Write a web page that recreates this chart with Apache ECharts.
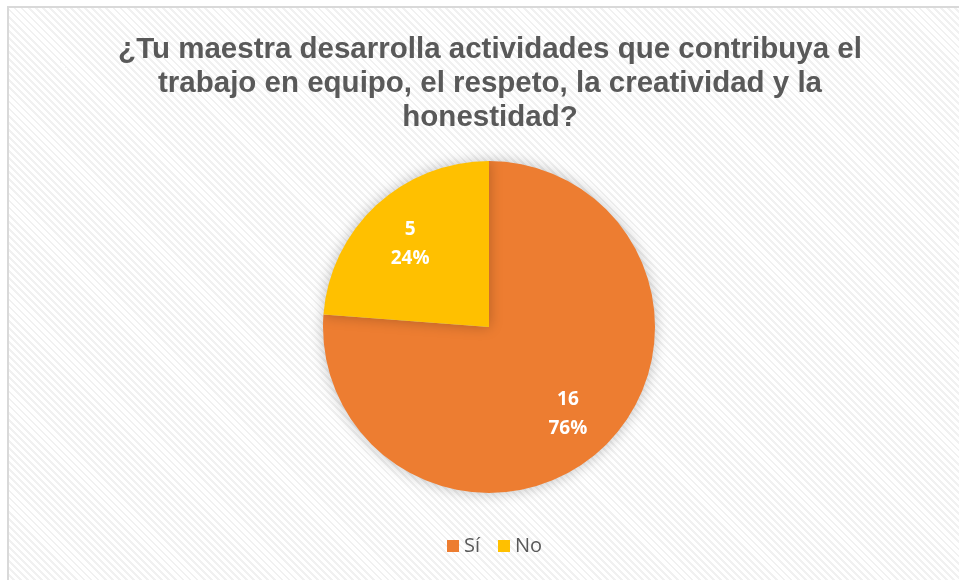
<!DOCTYPE html>
<html>
<head>
<meta charset="utf-8">
<script src="https://cdn.jsdelivr.net/npm/echarts@6/dist/echarts.min.js"></script>
<style>
  html, body { margin: 0; padding: 0; background: #fff; }
  #frame {
    position: absolute; left: 7px; top: 6px; width: 960px; height: 580px;
    border-left: 2px solid #d9d9d9; border-top: 2px solid #d9d9d9;
    background: repeating-linear-gradient(45deg, #ffffff 0px, #ffffff 3px, #f1f1f1 3px, #f1f1f1 5px);
  }
  #chart { position: absolute; left: 0; top: 0; width: 959px; height: 580px; }
</style>
</head>
<body>
<div id="frame"></div>
<div id="chart"></div>
<script>
var titleText = '¿Tu maestra desarrolla actividades que contribuya el\ntrabajo en equipo, el respeto, la creatividad y la\nhonestidad?';
var categories = ['Sí', 'No'];
var values = [16, 5];
var colors = ['#ED7D31', '#FFC000'];

var pieData = categories.map(function (c, i) {
  return { name: c, value: values[i], itemStyle: { color: colors[i] } };
});

var chart = echarts.init(document.getElementById('chart'));
chart.setOption({
  backgroundColor: 'transparent',
  title: {
    text: titleText,
    left: 485,
    textAlign: 'center',
    top: 28,
    textStyle: {
      fontFamily: 'Liberation Sans, Arial, sans-serif',
      fontSize: 29.5,
      fontWeight: 'bold',
      color: '#595959',
      lineHeight: 34
    }
  },
  legend: {
    data: categories,
    bottom: 19,
    left: 442,
    itemWidth: 12,
    itemHeight: 12,
    itemGap: 18,
    icon: 'rect',
    textStyle: { fontFamily: 'Open Sans, Noto Sans, sans-serif', fontSize: 20, color: '#595959' }
  },
  series: [
    {
      type: 'pie',
      center: [489, 327],
      radius: [0, 166],
      startAngle: 90,
      clockwise: true,
      data: pieData,
      label: { show: false },
      labelLine: { show: false },
      itemStyle: { shadowBlur: 14, shadowColor: 'rgba(0,0,0,0.25)' },
      emphasis: { disabled: true },
      silent: true
    },
    {
      // transparent ring used only to place the labels at ~0.7 r
      type: 'pie',
      center: [489, 327],
      radius: [60, 166],
      startAngle: 90,
      clockwise: true,
      data: categories.map(function (c, i) {
        return { name: c, value: values[i], itemStyle: { color: 'rgba(0,0,0,0)' } };
      }),
      label: {
        show: true,
        position: 'inside',
        offset: [0, 2],
        formatter: function (p) { return p.value + '\n' + Math.round(p.percent) + '%'; },
        fontFamily: 'Open Sans, Noto Sans, sans-serif',
        fontWeight: 'bold',
        fontSize: 19,
        lineHeight: 29,
        color: '#ffffff'
      },
      labelLine: { show: false },
      emphasis: { disabled: true },
      silent: true
    }
  ]
});
</script>
</body>
</html>
